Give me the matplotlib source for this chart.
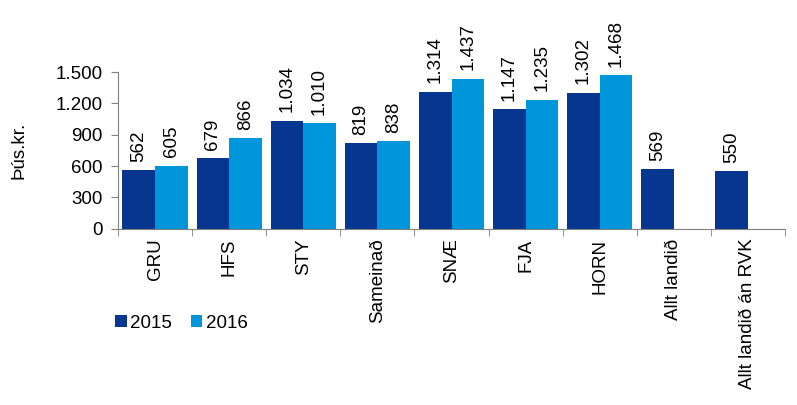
import matplotlib
matplotlib.use("Agg")
from matplotlib import pyplot as plt
import numpy as np

plt.rcParams['font.family'] = ['Liberation Sans', 'DejaVu Sans']

categories = ["GRU", "HFS", "STY", "Sameinað", "SNÆ", "FJA", "HORN", "Allt landið", "Allt landið án RVK"]
values_2015 = [562, 679, 1034, 819, 1314, 1147, 1302, 569, 550]
values_2016 = [605, 866, 1010, 838, 1437, 1235, 1468, None, None]

c2015 = "#06368F"
c2016 = "#0096DC"
fs = 13.5


def fmt(v):
    return f"{v:,}".replace(",", ".")


fig = plt.figure(figsize=(7.97, 4.05), dpi=100)
ax = fig.add_axes([0.148, 0.435, 0.837, 0.387])

x = np.arange(len(categories))
w = 0.44

for i, v in enumerate(values_2015):
    ax.bar(x[i] - w / 2, v, w, color=c2015, label="2015" if i == 0 else None)
    ax.annotate(fmt(v), (x[i] - w / 2, v), xytext=(0, 6), textcoords="offset points",
                rotation=90, ha="center", va="bottom", fontsize=fs)
for i, v in enumerate(values_2016):
    if v is None:
        continue
    ax.bar(x[i] + w / 2, v, w, color=c2016, label="2016" if i == 0 else None)
    ax.annotate(fmt(v), (x[i] + w / 2, v), xytext=(0, 6), textcoords="offset points",
                rotation=90, ha="center", va="bottom", fontsize=fs)

ax.set_xlim(-0.5, len(categories) - 0.5)
ax.set_ylim(0, 1500)
ax.set_yticks(np.arange(0, 1501, 300))
ax.set_yticklabels([fmt(t) for t in range(0, 1501, 300)], fontsize=fs)
ax.set_xticks(x)
ax.set_xticklabels(categories, rotation=90, fontsize=fs)
ax.tick_params(axis="x", length=0, pad=7)
ax.set_xticks(np.arange(-0.5, len(categories), 1), minor=True)
ax.tick_params(axis="x", which="minor", length=5, color="#808080")
ax.tick_params(axis="y", length=5, color="#808080", pad=6)
for s in ["top", "right"]:
    ax.spines[s].set_visible(False)
ax.spines["left"].set_color("#808080")
ax.spines["bottom"].set_color("#808080")
ax.set_ylabel("Þús.kr.", fontsize=fs, labelpad=20)

ax.legend(loc="upper left", bbox_to_anchor=(-0.015, -0.5), ncol=2, frameon=False,
          fontsize=fs, handlelength=0.6, handleheight=0.6, handletextpad=0.2, columnspacing=1.0,
          borderaxespad=0)

fig.savefig("out.png", dpi=100)
